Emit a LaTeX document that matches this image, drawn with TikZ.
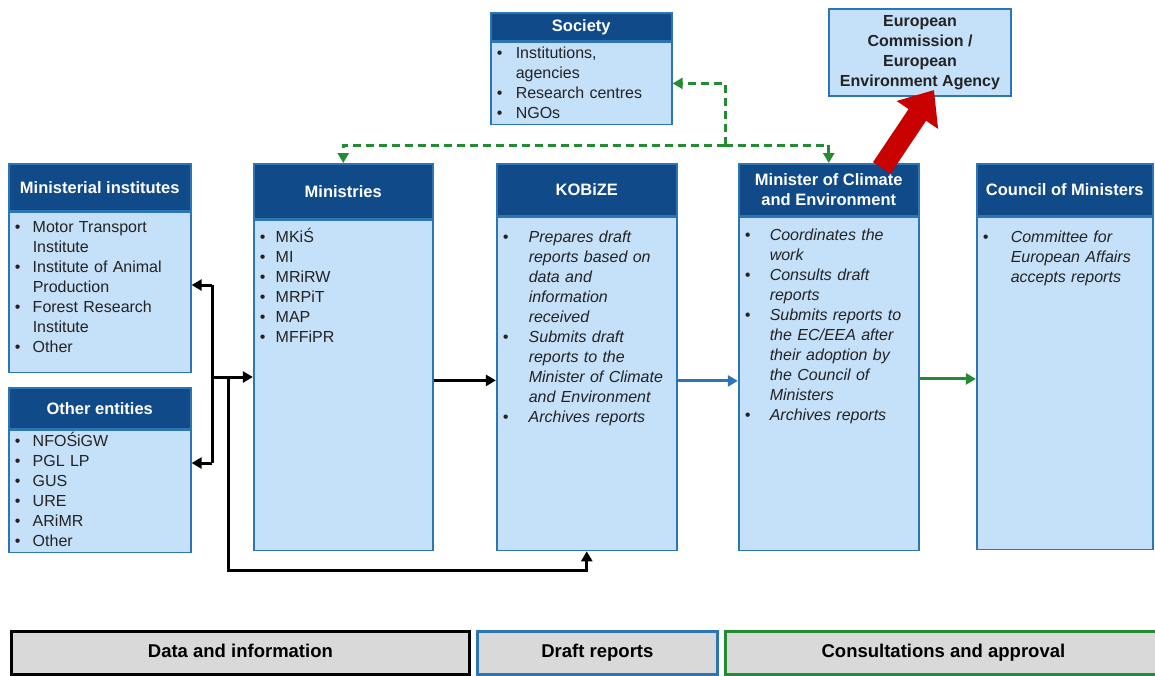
\documentclass[tikz,border=0pt]{standalone}
\usepackage{fontspec}
\setmainfont{Liberation Sans}
\usetikzlibrary{positioning,arrows.meta}

\definecolor{hdblue}{RGB}{16,74,137}
\definecolor{bodyblue}{RGB}{197,224,249}
\definecolor{bdblue}{RGB}{46,117,182}
\definecolor{flowgreen}{RGB}{34,139,52}
\definecolor{flowred}{RGB}{200,0,0}
\definecolor{bargray}{RGB}{217,217,217}
\definecolor{txtgray}{RGB}{35,35,35}

\newcommand{\itm}[2][18pt]{\hangindent=#1\hangafter=1\noindent\makebox[#1][l]{\textbullet}#2\par}

\begin{document}
\begin{tikzpicture}[x=1pt, y=-1pt,
    hdr/.style={rectangle, draw=bdblue, fill=hdblue, line width=1.5pt, text=white, font=\fontsize{16.5}{20}\selectfont\bfseries, align=center, minimum width=#1, anchor=north west},
    body/.style={rectangle, draw=bdblue, fill=bodyblue, line width=1.8pt, text=txtgray, font=\fontsize{16}{20}\selectfont, text width=#1, align=left, inner xsep=6pt, inner ysep=5pt},
    ecbox/.style={rectangle, draw=bdblue, fill=bodyblue, line width=2pt, text=txtgray, font=\fontsize{16}{20}\selectfont\bfseries, align=center, minimum width=182pt, minimum height=87pt, anchor=north west},
    bar/.style={rectangle, draw=#1, fill=bargray, line width=2.8pt, text=black, font=\fontsize{18.5}{20}\selectfont\bfseries, text height=13pt, text depth=4pt, minimum height=43pt, anchor=north west},
    flow/.style={line width=3pt, -{Triangle[length=10pt,width=11pt]}},
    gdash/.style={flowgreen, line width=3pt, dash pattern=on 8pt off 5pt, -{Triangle[length=10pt,width=11pt]}},
    bigred/.style={draw=flowred, line width=21pt, -{Triangle[length=30pt,width=48pt]}},
]
\useasboundingbox (0,0) rectangle (1155,675);
\clip (0,0) rectangle (1155,675);
\fill[white] (0,0) rectangle (1155,675);

% top row
\node[hdr=181pt, minimum height=28pt] (sochd) at (490,12) {Society};
\node[body=169pt, text height=11pt, text depth=61pt, below=0pt of sochd] (soc)
    {\itm[19pt]{Institutions,\newline agencies}\itm[19pt]{Research centres}\itm[19pt]{NGOs}};
\node[ecbox] (ec) at (828,8) {European\\Commission /\\European\\Environment Agency};

% data sources
\node[hdr=182pt, minimum height=47pt] (minsthd) at (8,163) {Ministerial institutes};
\node[body=170pt, text height=15pt, text depth=135pt, below=0pt of minsthd] (minst)
    {\itm{Motor Transport\newline Institute}\itm{Institute of Animal\newline Production}\itm{Forest Research\newline Institute}\itm{Other}};
\node[hdr=182pt, minimum height=41pt] (oenthd) at (8,387) {Other entities};
\node[body=170pt, text height=11pt, text depth=101pt, below=0pt of oenthd] (oent)
    {\itm{NFOŚiGW}\itm{PGL LP}\itm{GUS}\itm{URE}\itm{ARiMR}\itm{Other}};

% main chain
\node[hdr=179pt, minimum height=55pt] (minshd) at (253,163) {Ministries};
\node[body=167pt, text height=17pt, text depth=303pt, below=0pt of minshd] (mins)
    {\itm[16pt]{MKiŚ}\itm[16pt]{MI}\itm[16pt]{MRiRW}\itm[16pt]{MRPiT}\itm[16pt]{MAP}\itm[16pt]{MFFiPR}};
\node[hdr=180pt, minimum height=52pt] (kobhd) at (496,163) {KOBiZE};
\node[body=168pt, text height=20pt, text depth=303pt, below=0pt of kobhd, font=\fontsize{16}{20}\selectfont\itshape] (kob)
    {\itm[26pt]{Prepares draft\newline reports based on\newline data and\newline information\newline received}\itm[26pt]{Submits draft\newline reports to the\newline Minister of Climate\newline and Environment}\itm[26pt]{Archives reports}};
\node[hdr=180pt, minimum height=52pt] (mcehd) at (738,163) {Minister of Climate\\and Environment};
\node[body=168pt, text height=18pt, text depth=305pt, below=0pt of mcehd, font=\fontsize{16}{20}\selectfont\itshape] (mce)
    {\itm[25pt]{Coordinates the\newline work}\itm[25pt]{Consults draft\newline reports}\itm[25pt]{Submits reports to\newline the EC/EEA after\newline their adoption by\newline the Council of\newline Ministers}\itm[25pt]{Archives reports}};
\node[hdr=176pt, minimum height=52pt] (comhd) at (976,163) {Council of Ministers};
\node[body=164pt, text height=20pt, text depth=302pt, below=0pt of comhd, font=\fontsize{16}{20}\selectfont\itshape] (com)
    {\itm[28pt]{Committee for\newline European Affairs\newline accepts reports}};

% stage bar
\node[bar=black, minimum width=458pt] (databar) at (10,630) {Data and information};
\node[bar=bdblue, minimum width=240pt] (draftbar) at (476,630) {Draft reports};
\node[bar=flowgreen, minimum width=436pt] (consbar) at (724,630) {Consultations and approval};

% connectors
\coordinate (jtop) at (212,285);
\coordinate (jbot) at (212,463);
\coordinate (jmid) at (212,377);
\coordinate (jloop) at (228,377);
\coordinate (dsplit) at (725,145);
\draw[line width=3pt] (jtop) -- (jbot);
\draw[flow] (jtop) -- (jtop -| minst.east);
\draw[flow] (jbot) -- (jbot -| oent.east);
\draw[flow] (jmid) -- (jmid -| mins.west);
\draw[flow] (jloop) -- ++(0,193) -| (kob.south);
\draw[flow] ([yshift=5pt]mins.east) -- ([yshift=5pt]mins.east -| kob.west);
\draw[flow, bdblue] ([yshift=3pt]kob.east) -- ([yshift=3pt]kob.east -| mce.west);
\draw[flow, flowgreen] ([yshift=5pt]mce.east) -- ([yshift=5pt]mce.east -| com.west);
\draw[gdash] (dsplit) |- (soc.east);
\draw[gdash] (dsplit) -| (minshd.north);
\draw[gdash] (dsplit) -| (mcehd.north);
\draw[bigred] ([xshift=53pt,yshift=-5pt]mcehd.north) -- ([xshift=14pt,yshift=7pt]ec.south);
\end{tikzpicture}
\end{document}
